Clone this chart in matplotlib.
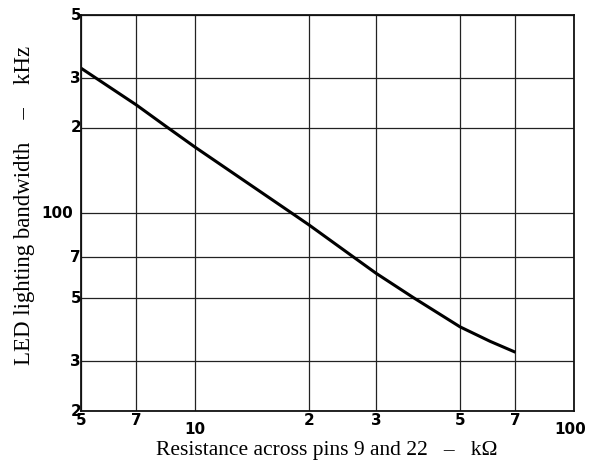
import matplotlib.pyplot as plt

# curve (kOhm -> kHz)
resistance = [5, 7, 8.4, 10, 18.2, 20, 25.8, 30, 37.7, 50, 60, 70]
bandwidth = [325, 241, 202, 171, 99, 90.8, 71, 61.4, 50.3, 39.7, 35.3, 32.3]

x_ticks = [5, 7, 10, 20, 30, 50, 70, 100]
x_labels = ['5', '7', '10', '2', '3', '5', '7', '100']
y_ticks = [20, 30, 50, 70, 100, 200, 300, 500]
y_labels = ['2', '3', '5', '7', '100', '2', '3', '5']

fig = plt.figure(figsize=(6.05, 4.61), dpi=100)
ax = fig.add_axes([0.134, 0.108, 0.815, 0.859])

ax.plot(resistance, bandwidth, color='black', lw=2.2, solid_capstyle='butt')

ax.set_xscale('log')
ax.set_yscale('log')
ax.set_xlim(5, 100)
ax.set_ylim(20, 500)

ax.set_xticks(x_ticks)
ax.set_yticks(y_ticks)
ax.minorticks_off()
ax.set_xticklabels([])
ax.set_yticklabels([])
ax.tick_params(length=0)
ax.grid(True, color='#222222', lw=0.9)
for s in ax.spines.values():
    s.set_linewidth(1.3)
    s.set_color('#111111')

tick_font = dict(fontsize=11, fontweight='bold', family='DejaVu Sans')

# x tick labels, "10" and "100" sit a bit lower
for v, lab in zip(x_ticks, x_labels):
    dy = -8 if lab in ('10', '100') else -1
    dx = -3 if lab == '100' else 0
    ax.annotate(lab, xy=(v, 0), xycoords=('data', 'axes fraction'),
                xytext=(dx, dy), textcoords='offset points',
                ha='center', va='top', **tick_font)

# y tick labels
for v, lab in zip(y_ticks, y_labels):
    dx = -6 if lab == '100' else 0
    ax.annotate(lab, xy=(0, v), xycoords=('axes fraction', 'data'),
                xytext=(dx, 0), textcoords='offset points',
                ha='right', va='center', **tick_font)

fig.text(0.54, 0.013, 'Resistance across pins 9 and 22   \u2013   k\u03a9',
         ha='center', va='baseline', fontsize=15.5, family='Liberation Serif')
fig.text(0.040, 0.554, 'LED lighting bandwidth    \u2013    kHz',
         ha='center', va='center', rotation=90, fontsize=16.5,
         family='Liberation Serif')

fig.savefig('out.png', dpi=100)
